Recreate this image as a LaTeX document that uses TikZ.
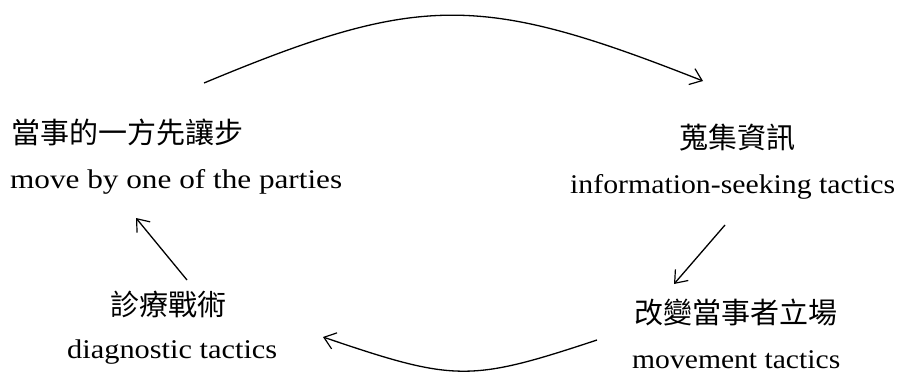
\documentclass[tikz,border=0pt]{standalone}
\usepackage{fontspec}
\usepackage{graphicx}
\setmainfont{Liberation Serif}
\newfontfamily\cjk{Noto Sans CJK TC}
\usetikzlibrary{arrows.meta}
% stretch a line of text horizontally to a given width
\newcommand\widento[2]{\resizebox{#1}{\height}{#2}}
\begin{document}
\begin{tikzpicture}[x=1pt,y=-1pt,
  zh/.style={inner sep=0pt,anchor=center,font=\cjk\fontsize{29}{32}\selectfont},
  en/.style={inner sep=0pt,anchor=base west,font=\fontsize{27}{30}\selectfont},
  flow/.style={line width=1.3pt,-{Straight Barb[length=11pt,width=17pt,line width=1.2pt]}}]
\useasboundingbox[fill=white] (0,0) rectangle (904,372);

% the four stages, Chinese above English
\node[zh] (moveZh) at (127,132) {當事的一方先讓步};
\node[en] (moveEn) at (10,188) {\widento{332pt}{move by one of the parties}};
\node[zh] (infoZh) at (737,138) {蒐集資訊};
\node[en] (infoEn) at (570,193) {\widento{325pt}{information-seeking tactics}};
\node[zh] (mvtZh) at (736,312) {改變當事者立場};
\node[en] (mvtEn) at (632,368) {\widento{208pt}{movement tactics}};
\node[zh] (diagZh) at (168,304) {診療戰術};
\node[en] (diagEn) at (67,358) {\widento{210pt}{diagnostic tactics}};

% connector end points
\coordinate (topS) at (204,83);
\coordinate (topE) at (703,81);
\coordinate (rS) at (725,225);
\coordinate (rE) at (674,284);
\coordinate (botS) at (597,340);
\coordinate (botE) at (323,337);
\coordinate (lS) at (187,280);
\coordinate (lE) at (136,218);

% the cycle
\draw[flow] (topS) .. controls (420,-7) and (480,-7) .. (topE);
\draw[flow] (rS) -- (rE);
\draw[flow] (botS) .. controls (470,382) and (455,382) .. (botE);
\draw[flow] (lS) -- (lE);
\end{tikzpicture}
\end{document}
